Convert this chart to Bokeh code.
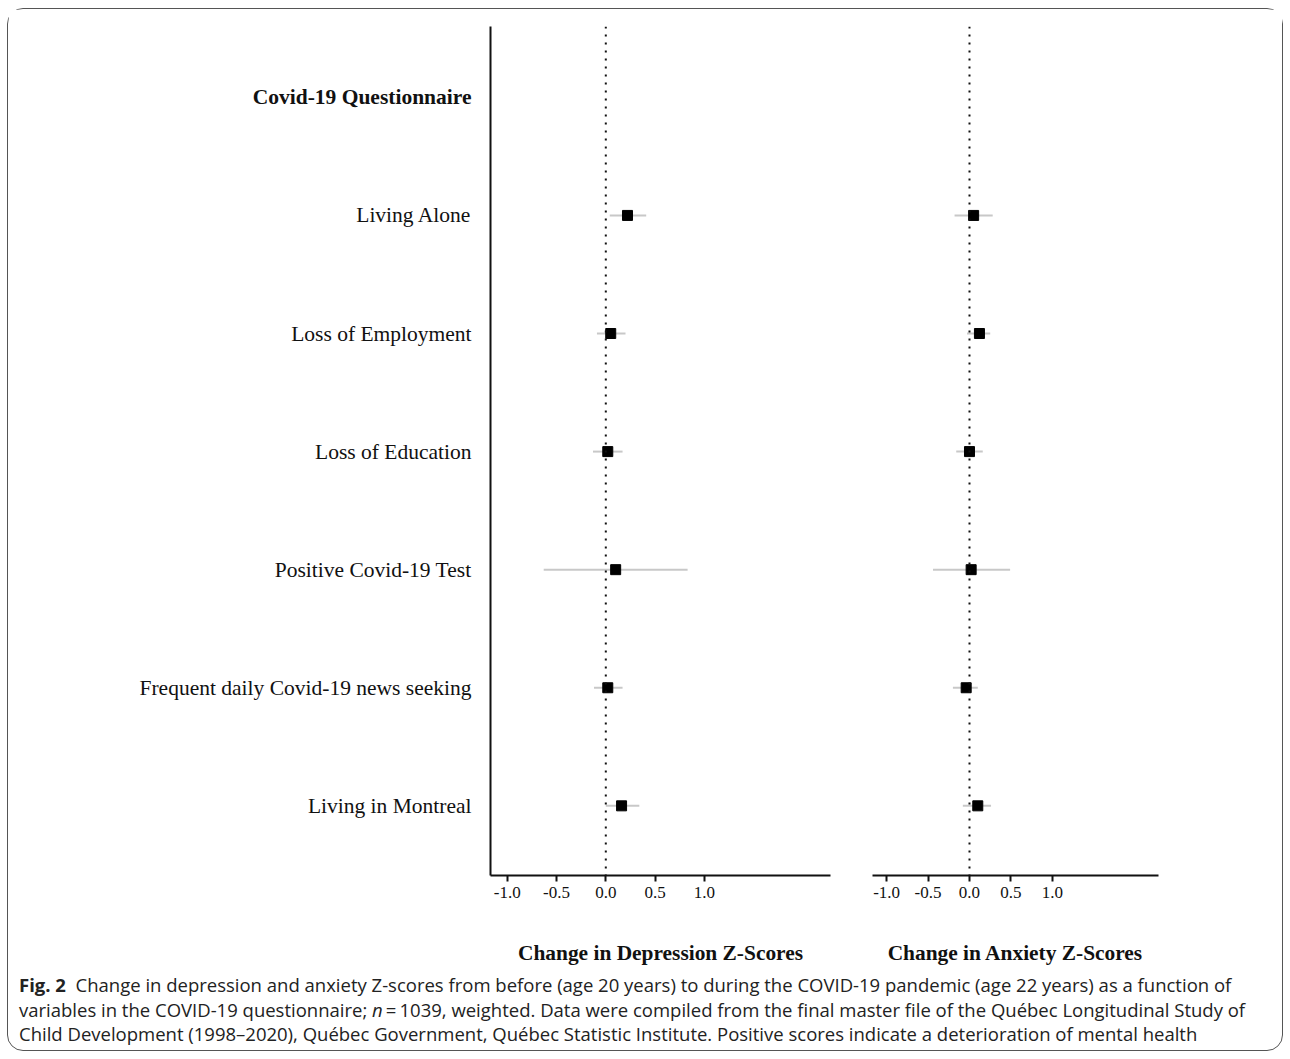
from bokeh.plotting import figure
from bokeh.models import Span, FixedTicker, Div, Range1d
from bokeh.layouts import row, column
from bokeh.core.properties import value
from bokeh.embed import file_html
from bokeh.resources import INLINE

# ---------------- data ----------------
header = "Covid-19 Questionnaire"
variables = ["Living Alone", "Loss of Employment", "Loss of Education",
             "Positive Covid-19 Test", "Frequent daily Covid-19 news seeking",
             "Living in Montreal"]
row_pos = [6, 5, 4, 3, 2, 1]
header_pos = [7]

dep_est = [0.22, 0.05, 0.02, 0.10, 0.02, 0.16]
dep_lo = [0.04, -0.09, -0.13, -0.63, -0.12, 0.00]
dep_hi = [0.41, 0.20, 0.17, 0.83, 0.17, 0.34]

anx_est = [0.05, 0.12, 0.00, 0.02, -0.04, 0.10]
anx_lo = [-0.18, -0.03, -0.16, -0.44, -0.20, -0.08]
anx_hi = [0.28, 0.25, 0.16, 0.49, 0.10, 0.26]

x_ticks = [-1.0, -0.5, 0.0, 0.5, 1.0]
x_tick_labels = ["-1.0", "-0.5", "0.0", "0.5", "1.0"]

dep_title = "Change in Depression Z-Scores"
anx_title = "Change in Anxiety Z-Scores"

SERIF = "Liberation Serif"
INK = "#111111"
H = 967
TOP = 17
BOTTOM = 101

y_range = Range1d(0.41, 7.6)


def clean(p):
    p.outline_line_color = None
    p.xgrid.grid_line_color = None
    p.ygrid.grid_line_color = None
    p.background_fill_color = "white"
    p.border_fill_color = "white"


# ---------------- row label column ----------------
p0 = figure(width=472, height=H, output_backend="svg", toolbar_location=None,
            x_range=Range1d(0, 1), y_range=y_range,
            min_border_left=0, min_border_right=0,
            min_border_top=TOP, min_border_bottom=BOTTOM,
            x_axis_location=None, y_axis_location=None)
clean(p0)
p0.text(x=[1] * len(variables), y=row_pos, text=variables, x_offset=-9,
        text_align="right", text_baseline="middle",
        text_font=value(SERIF), text_font_size="21.5px", text_color=INK)
p0.text(x=[1], y=header_pos, text=[header], x_offset=-9,
        text_align="right", text_baseline="middle",
        text_font=value(SERIF), text_font_size="21.5px",
        text_font_style="bold", text_color=INK)


def make_panel(est, lo, hi, title, width, border_left, border_right, show_y):
    p = figure(width=width, height=H, output_backend="svg", toolbar_location=None,
               x_range=Range1d(-1.17, 2.28), y_range=y_range,
               min_border_left=border_left, min_border_right=border_right,
               min_border_top=TOP, min_border_bottom=BOTTOM,
               y_axis_location="left" if show_y else None)
    clean(p)

    xa = p.xaxis[0]
    xa.ticker = FixedTicker(ticks=x_ticks)
    xa.minor_tick_line_color = None
    xa.major_label_overrides = dict(zip(x_ticks, x_tick_labels))
    xa.major_tick_out = 6
    xa.major_tick_in = 0
    xa.major_tick_line_width = 2
    xa.axis_line_width = 2
    xa.axis_line_color = INK
    xa.major_tick_line_color = INK
    xa.major_label_text_font = SERIF
    xa.major_label_text_font_size = "17px"
    xa.major_label_text_color = INK
    xa.major_label_standoff = 5
    xa.axis_label = title
    xa.axis_label_text_font = SERIF
    xa.axis_label_text_font_style = "bold"
    xa.axis_label_text_font_size = "21.4px"
    xa.axis_label_text_color = INK
    xa.axis_label_standoff = 40

    if show_y:
        ya = p.yaxis[0]
        ya.ticker = FixedTicker(ticks=[])
        ya.minor_tick_line_color = None
        ya.major_tick_line_color = None
        ya.major_label_standoff = 0
        ya.axis_line_width = 2
        ya.axis_line_color = INK

    p.add_layout(Span(location=0, dimension="height", line_color=INK,
                      line_width=2, line_dash="2 6"))

    p.segment(x0=lo, x1=hi, y0=row_pos, y1=row_pos, line_color="#c8c8c8", line_width=2)
    p.scatter(x=est, y=row_pos, marker="square", size=10,
              fill_color="black", line_color="black")
    return p


p1 = make_panel(dep_est, dep_lo, dep_hi, dep_title, 371, 10, 21, True)
p2 = make_panel(anx_est, anx_lo, anx_hi, anx_title, 431, 21, 124, False)

caption_html = (
    '<div style="font-family:\'Open Sans\';font-size:18.5px;line-height:24.5px;'
    'color:#222;white-space:nowrap;padding-left:6px;margin-top:-8px;">'
    '<b>Fig.&nbsp;2</b>&nbsp; Change in depression and anxiety Z-scores from before (age 20 years) '
    'to during the COVID-19 pandemic (age 22 years) as a function of<br>'
    'variables in the COVID-19 questionnaire; <i>n</i>&thinsp;=&thinsp;1039, weighted. Data were compiled '
    'from the final master file of the Québec Longitudinal Study of<br>'
    'Child Development (1998–2020), Québec Government, Québec Statistic Institute. '
    'Positive scores indicate a deterioration of mental health'
    '</div>'
)
cap = Div(text=caption_html, width=1270, height=74)

layout = column(row(p0, p1, p2), cap, width=1276, height=1043,
                styles={"border": "1px solid #555", "border-radius": "16px",
                        "background": "white", "margin-left": "7px", "margin-top": "8px"})

open("out.html", "w").write(file_html(layout, INLINE))
